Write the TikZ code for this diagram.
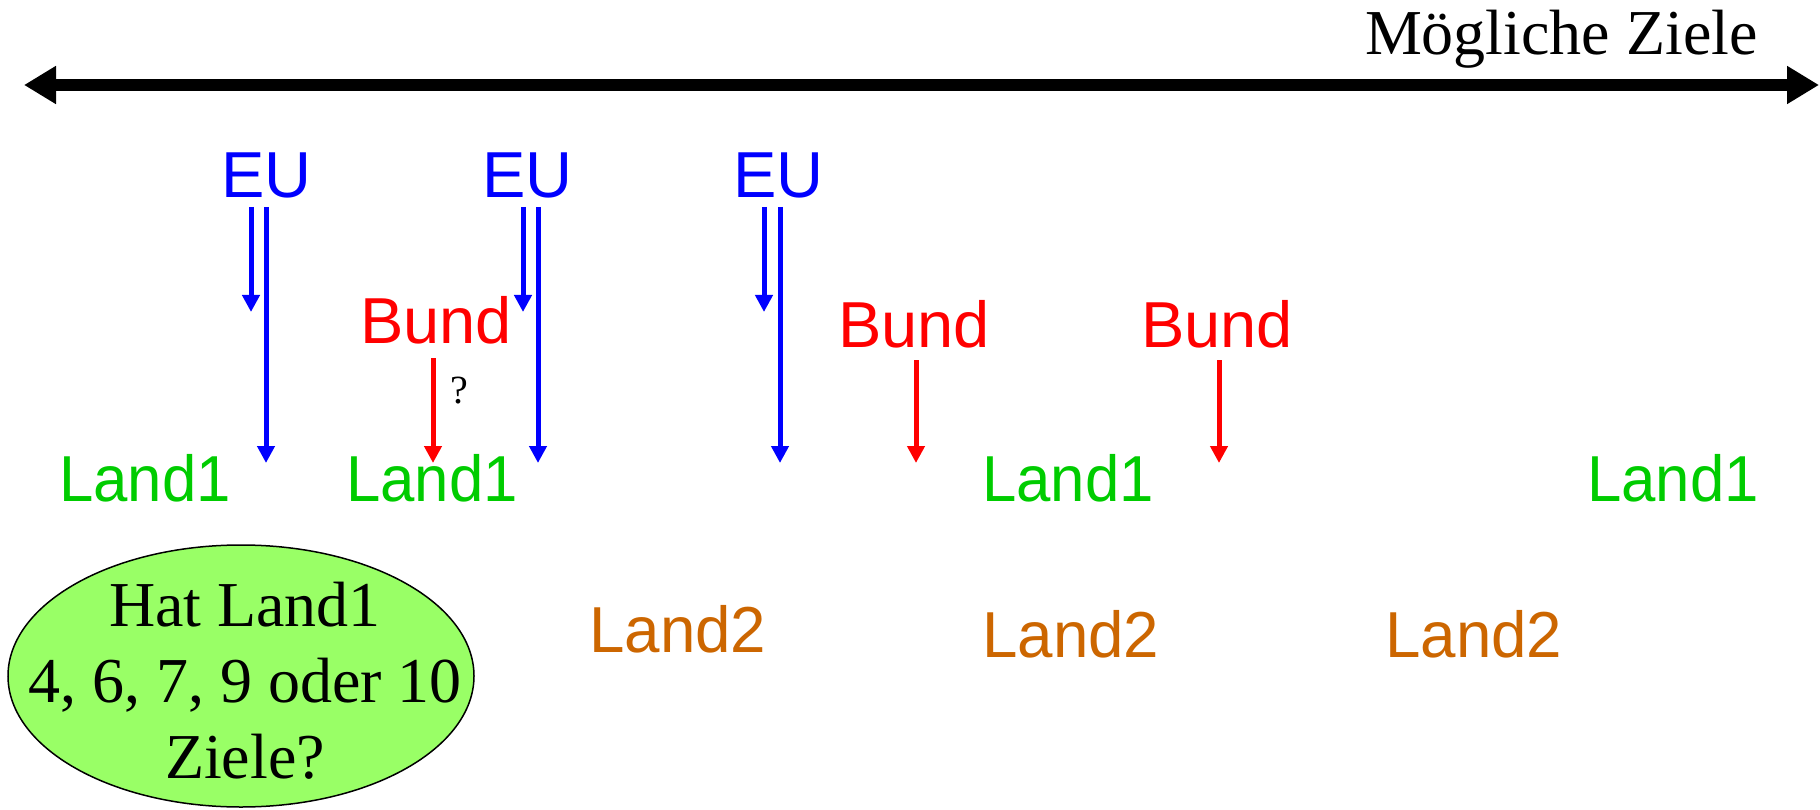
\documentclass[tikz,border=0pt]{standalone}
\usepackage{fontspec}
\setmainfont{Liberation Serif}
\setsansfont{Liberation Sans}
\newfontfamily\landafont[FakeStretch=0.95]{Liberation Sans}
\newfontfamily\landbfont[FakeStretch=0.98]{Liberation Sans}
\usetikzlibrary{arrows.meta,shapes.geometric}
\definecolor{eublue}{RGB}{0,0,255}
\definecolor{bundred}{RGB}{255,0,0}
\definecolor{landgreen}{RGB}{0,204,0}
\definecolor{landorange}{RGB}{204,102,0}
\definecolor{elfill}{RGB}{153,255,102}
\begin{document}
\begin{tikzpicture}[x=1pt,y=-1pt,
  lbl/.style={font=\sffamily\fontsize{65}{78}\selectfont, inner sep=0pt, anchor=base west},
  eulbl/.style={lbl, text=eublue},
  bundlbl/.style={lbl, text=bundred},
  landa/.style={lbl, font=\landafont\fontsize{65}{78}\selectfont, text=landgreen},
  landb/.style={lbl, font=\landbfont\fontsize{65}{78}\selectfont, text=landorange},
  euarr/.style={draw=eublue, line width=5pt, -{Triangle[length=17pt,width=17pt]}},
  bundarr/.style={draw=bundred, line width=5pt, -{Triangle[length=17pt,width=17pt]}},
  mainarr/.style={line width=12pt, {Triangle[length=32pt,width=36pt]}-{Triangle[length=32pt,width=36pt]}}
]
\useasboundingbox (0,0) rectangle (1820,810);

% main axis
\coordinate (axL) at (24,85);
\coordinate (axR) at (1819,85);
\draw[mainarr] (axL) -- (axR);
\node[font=\fontsize{64}{76}\selectfont, inner sep=0pt, anchor=base east] (title) at (1758,55) {Mögliche Ziele};

% EU labels
\node[eulbl] (eu1) at (221,198) {EU};
\node[eulbl] (eu2) at (482,198) {EU};
\node[eulbl] (eu3) at (733,198) {EU};

% Bund labels
\node[bundlbl] (bund1) at (360,343) {Bund};
\node[bundlbl] (bund2) at (838,347) {Bund};
\node[bundlbl] (bund3) at (1141,347) {Bund};

% Land1 labels
\node[landa] (la1) at (59,501) {Land1};
\node[landa] (la2) at (346,501) {Land1};
\node[landa] (la3) at (982,501) {Land1};
\node[landa] (la4) at (1587,501) {Land1};

% Land2 labels
\node[landb] (lb1) at (589,652) {Land2};
\node[landb] (lb2) at (982,657) {Land2};
\node[landb] (lb3) at (1385,657) {Land2};

% arrow end points
\coordinate (e1a) at (251,207); \coordinate (e1b) at (251,312);
\coordinate (e1c) at (266,207); \coordinate (e1d) at (266,463);
\coordinate (e2a) at (523,207); \coordinate (e2b) at (523,312);
\coordinate (e2c) at (538,207); \coordinate (e2d) at (538,463);
\coordinate (e3a) at (764,207); \coordinate (e3b) at (764,312);
\coordinate (e3c) at (780,207); \coordinate (e3d) at (780,463);
\coordinate (b1a) at (433,358); \coordinate (b1b) at (433,463);
\coordinate (b2a) at (916,360); \coordinate (b2b) at (916,463);
\coordinate (b3a) at (1219,360); \coordinate (b3b) at (1219,463);

\draw[euarr] (e1a) -- (e1b);
\draw[euarr] (e1c) -- (e1d);
\draw[euarr] (e2a) -- (e2b);
\draw[euarr] (e2c) -- (e2d);
\draw[euarr] (e3a) -- (e3b);
\draw[euarr] (e3c) -- (e3d);
\draw[bundarr] (b1a) -- (b1b);
\draw[bundarr] (b2a) -- (b2b);
\draw[bundarr] (b3a) -- (b3b);

\node[font=\fontsize{40}{48}\selectfont, inner sep=0pt, anchor=base west] (qm) at (450,403) {?};

% question ellipse
\node[ellipse, draw=black, line width=1.5pt, fill=elfill, minimum width=466pt, minimum height=262pt, inner sep=0pt] (q) at (241,676) {};
\node[align=center, font=\fontsize{64}{76}\selectfont, inner sep=0pt] (qtext) at (245,681) {Hat Land1\\4, 6, 7, 9 oder 10\\Ziele?};
\end{tikzpicture}
\end{document}
